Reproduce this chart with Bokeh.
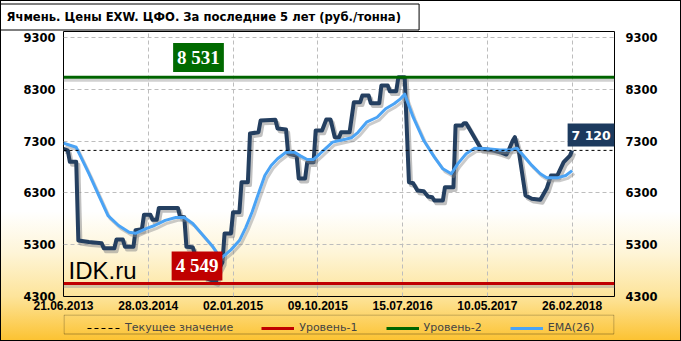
from bokeh.plotting import figure
from bokeh.layouts import column
from bokeh.models import (Range1d, LinearAxis, FixedTicker, Span, Label, Legend, LegendItem,
                          ColumnDataSource, InlineStyleSheet, BoxAnnotation)
from bokeh.transform import dodge
from bokeh.embed import file_html
from bokeh.resources import INLINE

# ---------------- data ----------------
title_text = "Ячмень.  Цены EXW.  ЦФО.  За последние 5 лет (руб./тонна)"
tick_positions = [0, 40, 80, 120, 160, 200, 240]
tick_dates = ["21.06.2013", "28.03.2014", "02.01.2015", "09.10.2015",
              "15.07.2016", "10.05.2017", "26.02.2018"]
y_ticks = [4300, 5300, 6300, 7300, 8300, 9300]

price_idx = [0, 2, 3, 6, 7, 12, 18, 19, 24, 25, 28, 29, 33, 34, 37, 38, 41, 42, 44, 45,
             54, 55, 57, 58, 61, 62, 65, 67, 72, 73, 75, 76, 79, 80, 83, 84, 87, 88, 92, 93,
             100, 101, 105, 106, 110, 111, 114, 115, 118, 119, 122, 124, 126, 128, 130, 131,
             135, 137, 140, 141, 144, 145, 149, 150, 153, 154, 157, 158, 161, 163, 165, 167,
             170, 172, 174, 175, 179, 180, 184, 185, 188, 189, 190, 197, 203, 206, 209, 210,
             212, 213, 215, 218, 221, 225, 228, 230, 233, 236, 239, 240]
price_val = [7150, 7120, 6900, 6900, 5380, 5350, 5330, 5230, 5230, 5400, 5400, 5260, 5260, 5580,
             5600, 5880, 5880, 5780, 5780, 6010, 6010, 5840, 5830, 5260, 5250, 5120, 5120, 4660,
             4580, 4800, 4960, 5516, 5516, 5927, 5927, 6506, 6506, 7446, 7470, 7697, 7710, 7542,
             7523, 7060, 7021, 6577, 6577, 6892, 6892, 7504, 7504, 7716, 7716, 7375, 7369, 7471,
             7471, 8050, 8050, 8180, 8180, 8031, 8031, 8372, 8372, 8262, 8262, 8531, 8531, 6506,
             6487, 6346, 6332, 6230, 6216, 6153, 6153, 6410, 6410, 7600, 7600, 7645, 7645, 7151,
             7118, 7085, 7040, 7118, 7311, 7375, 7060, 6250, 6186, 6166, 6384, 6635, 6635, 6892,
             7021, 7120]

ema_idx = [0, 6, 12, 17, 21, 26, 31, 34, 39, 43, 48, 53, 57, 61, 65, 70, 73, 75, 79, 83,
           86, 89, 92, 95, 98, 101, 105, 109, 112, 115, 118, 121, 124, 127, 132, 136, 139, 143,
           148, 152, 156, 159, 161, 165, 170, 175, 179, 183, 186, 190, 194, 200, 206, 211, 214,
           217, 221, 225, 228, 233, 237, 240]
ema_val = [7260, 7180, 6670, 6220, 5860, 5670, 5540, 5520, 5610, 5670, 5770, 5825, 5825, 5710,
           5520, 5285, 5110, 5060, 5200, 5380, 5630, 5930, 6290, 6635, 6830, 6960, 7085, 7085,
           7010, 6945, 6945, 7055, 7170, 7280, 7325, 7365, 7470, 7665, 7760, 7925, 8020, 8115,
           8205, 7760, 7310, 6990, 6765, 6670, 6860, 7055, 7160, 7150, 7130, 7130, 7160, 7020,
           6830, 6670, 6590, 6590, 6635, 6730]

current_value = 7120
level_1 = 4549
level_2 = 8531
site_text = "IDK.ru"
legend_labels = ["Текущее значение", "Уровень-1", "Уровень-2", "EMA(26)"]

C_PRICE = "#243f60"
C_EMA = "#4aa3f5"
C_L1 = "#c00000"
C_L2 = "#006400"


def fmt(v):
    return f"{v:,}".replace(",", " ")


# ---------------- main figure ----------------
p = figure(width=681, height=314, output_backend="svg", toolbar_location=None,
           x_range=Range1d(0, 260), y_range=Range1d(4300, 9415),
           min_border_left=63, min_border_right=67, min_border_top=31, min_border_bottom=18,
           background_fill_color=None, border_fill_color=None,
           outline_line_color="black", outline_line_width=1)

p.title.text = title_text
p.title.align = "left"
p.title.offset = -63
p.title.standoff = 3
p.title.text_font = "DejaVu Sans"
p.title.text_font_style = "bold"
p.title.text_font_size = "11.6px"
p.title.text_color = "black"
p.title.background_fill_color = "white"
p.title.border_line_color = "black"
p.title.border_line_width = 1
p.title.padding = 6

p.add_layout(LinearAxis(), "right")

for ax in p.yaxis:
    ax.ticker = FixedTicker(ticks=y_ticks)
    ax.major_label_text_font = "DejaVu Sans"
    ax.major_label_text_font_style = "bold"
    ax.major_label_text_font_size = "11.5px"
    ax.major_label_text_color = "black"
    ax.axis_line_color = None
    ax.major_tick_line_color = None
    ax.minor_tick_line_color = None
    ax.major_tick_out = 0
    ax.major_tick_in = 0
p.yaxis[0].major_label_standoff = 8
p.yaxis[1].major_label_standoff = 11

xa = p.xaxis[0]
xa.ticker = FixedTicker(ticks=tick_positions)
xa.major_label_overrides = {t: d for t, d in zip(tick_positions, tick_dates)}
xa.major_label_text_font = "Liberation Sans"
xa.major_label_text_font_style = "bold"
xa.major_label_text_font_size = "12px"
xa.major_label_text_color = "black"
xa.axis_line_color = None
xa.major_tick_line_color = None
xa.minor_tick_line_color = None
xa.major_tick_out = 0
xa.major_tick_in = 0
xa.major_label_standoff = 4

p.xgrid.ticker = FixedTicker(ticks=tick_positions)
p.ygrid.ticker = FixedTicker(ticks=y_ticks)
for g in (p.xgrid[0], p.ygrid[0]):
    g.grid_line_color = "#bdbdbd"
    g.grid_line_dash = "4 3"
    g.grid_line_width = 1

for val, col in ((level_2, C_L2), (level_1, C_L1)):
    p.add_layout(Span(location=val - 55, dimension="width", line_color="#9a9a9a",
                      line_alpha=0.45, line_width=3, level="underlay"))
    p.add_layout(Span(location=val, dimension="width", line_color=col, line_width=3,
                      level="glyph"))

p.add_layout(Span(location=current_value, dimension="width", line_color="black",
                  line_dash="3 3", line_width=1, level="glyph"))

price_src = ColumnDataSource(dict(x=price_idx, y=price_val))
ema_src = ColumnDataSource(dict(x=ema_idx, y=ema_val))

p.line(x=dodge("x", 1.0), y=dodge("y", -55), source=price_src, line_color="#8c8c8c",
       line_alpha=0.55, line_width=4, line_join="round")
p.line(x="x", y="y", source=price_src, line_color=C_PRICE, line_width=4, line_join="round")
p.line(x=dodge("x", 1.0), y=dodge("y", -55), source=ema_src, line_color="#8c8c8c",
       line_alpha=0.45, line_width=3, line_join="round")
p.line(x="x", y="y", source=ema_src, line_color=C_EMA, line_width=3, line_join="round")


def value_box(x, y, txt, bg, font, size, pad):
    p.add_layout(Label(x=x, y=y, text=txt, text_align="center", text_baseline="middle",
                       text_font=font, text_font_style="bold", text_font_size=size,
                       text_alpha=0, background_fill_color="#7a7a7a",
                       background_fill_alpha=0.45, padding=pad, x_offset=3, y_offset=-3))
    p.add_layout(Label(x=x, y=y, text=txt, text_align="center", text_baseline="middle",
                       text_font=font, text_font_style="bold", text_font_size=size,
                       text_color="white", background_fill_color=bg, padding=pad))


value_box(63.7, 8913, fmt(level_2), "#006a00", "Liberation Serif", "19px", 4)
value_box(63.0, 4889, fmt(level_1), "#c00000", "Liberation Serif", "19px", 4)
p.add_layout(Label(x=249, y=7417, text=fmt(current_value), text_align="center",
                   text_baseline="middle", text_font="DejaVu Sans", text_font_style="bold",
                   text_font_size="12.5px", text_color="white",
                   background_fill_color="#1c3a5e", padding=4))

p.add_layout(Label(x=2.4, y=4800, text=site_text, text_align="left", text_baseline="middle",
                   text_font="Liberation Sans", text_font_size="24px", text_color="black"))

# ---------------- legend strip (frame aligned with the main frame) ----------------
p2 = figure(width=681, height=27, output_backend="svg", toolbar_location=None,
            x_range=Range1d(63, 614), y_range=Range1d(0, 27),
            x_axis_location=None, y_axis_location=None, min_border=0,
            background_fill_color=None, border_fill_color=None, outline_line_color=None)
p2.grid.visible = False

# legend swatches (kept outside the visible range of this strip)
r_cur = p2.line(x=[0, 10], y=[-5, -5], line_color="black", line_dash="4 3", line_width=1)
r_l1 = p2.line(x=[0, 10], y=[-5, -5], line_color=C_L1, line_width=3)
r_l2 = p2.line(x=[0, 10], y=[-5, -5], line_color=C_L2, line_width=3)
r_em = p2.line(x=[0, 10], y=[-5, -5], line_color=C_EMA, line_width=3)

p2.add_layout(BoxAnnotation(left=63.5, right=613.5, bottom=7.5, top=26.5, fill_alpha=0,
                            line_color="black", line_width=1))
legend = Legend(items=[LegendItem(label=legend_labels[0], renderers=[r_cur]),
                       LegendItem(label=legend_labels[1], renderers=[r_l1]),
                       LegendItem(label=legend_labels[2], renderers=[r_l2]),
                       LegendItem(label=legend_labels[3], renderers=[r_em])],
                orientation="horizontal", location=(24, 7), spacing=28,
                glyph_width=33, glyph_height=12, label_height=12, label_standoff=5,
                padding=3, margin=0, label_text_font="DejaVu Sans",
                label_text_font_size="11px", border_line_color=None,
                background_fill_alpha=0)
p2.add_layout(legend)

layout = column(p, p2, spacing=0)
layout.stylesheets = [InlineStyleSheet(css=""":host {
  background: linear-gradient(to bottom, #ffffff 0%, #ffffff 62%, #fef5d8 74%, #fde49a 87%, #fcc230 100%);
  outline: 1px solid #000; outline-offset: -1px; }""")]

open("out.html", "w").write(file_html(layout, INLINE))
